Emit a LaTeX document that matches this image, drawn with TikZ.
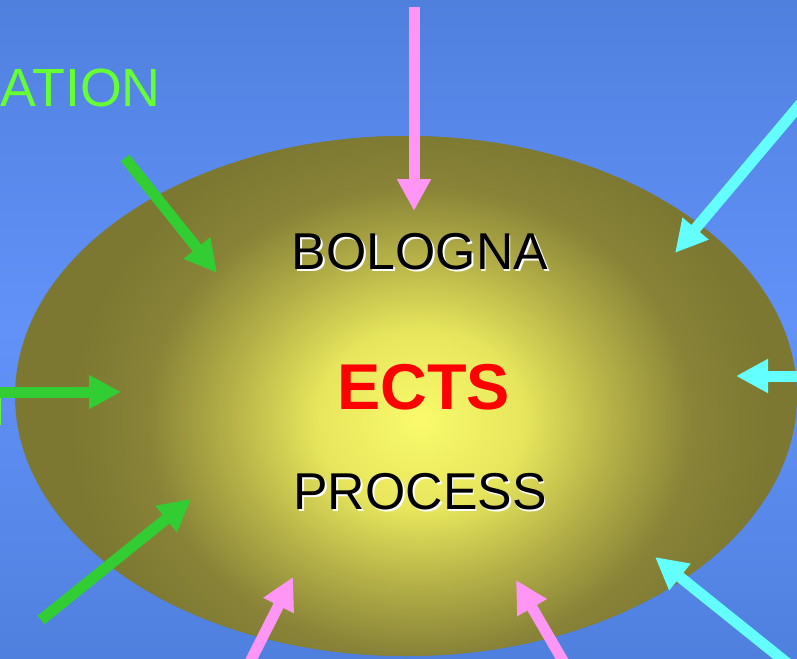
\documentclass[tikz,border=0pt]{standalone}
\usepackage{fontspec}
\setmainfont{Liberation Sans}
\usepackage{tkz-euclide}
\usepackage{tikz}
\usetikzlibrary{arrows.meta}
\definecolor{bgEdge}{RGB}{80,128,222}
\definecolor{bgMid}{RGB}{98,146,248}
\definecolor{glow0}{RGB}{250,250,108}
\definecolor{glow1}{RGB}{230,229,92}
\definecolor{glow2}{RGB}{182,178,72}
\definecolor{glow3}{RGB}{136,131,55}
\definecolor{glow4}{RGB}{124,120,50}
\definecolor{arrowPink}{RGB}{255,150,245}
\definecolor{arrowGreen}{RGB}{50,205,50}
\definecolor{arrowCyan}{RGB}{100,255,255}
\definecolor{wordGreen}{RGB}{102,255,51}
\pgfdeclareradialshading{ectsGlow}{\pgfpoint{0bp}{0bp}}{color(0bp)=(glow0); color(7.5bp)=(glow1); color(13.5bp)=(glow2); color(19.5bp)=(glow3); color(25bp)=(glow4); color(50bp)=(glow4)}

\begin{document}
\begin{tikzpicture}[x=1bp,y=-1bp,
    >={Triangle[length=32bp,width=32bp]},
    flow/.style={->,line width=11bp},
    bigword/.style={inner sep=0pt,font=\fontsize{52}{60}\selectfont}]
    \useasboundingbox (0,0) rectangle (797,659);
    \shade[top color=bgEdge,bottom color=bgEdge,middle color=bgMid] (0,0) rectangle (797,659);
    \fill[glow4] (406,396) ellipse [x radius=391,y radius=260];
    \begin{scope}
      \clip (406,396) ellipse [x radius=391,y radius=260];
      \shade[shading=ectsGlow] (420,420) ellipse [x radius=350,y radius=300];
    \end{scope}

    % words cut off at the left
    \node[bigword,wordGreen,anchor=east,font=\fontsize{54}{60}\selectfont] (ation) at (161,88) {ATION};
    \node[bigword,wordGreen,anchor=west,font=\fontsize{54}{60}\selectfont] (tee) at (-17.5,406.5) {T};

    % middle of the ellipse
    \node[bigword,white] (bolognaS) at (421.8,253.8) {BOLOGNA};
    \node[bigword] (bologna) at (420,252) {BOLOGNA};
    \node[bigword,red,font=\bfseries\fontsize{65}{70}\selectfont] (ects) at (423.5,387) {ECTS};
    \node[bigword,white] (processS) at (421.8,493.8) {PROCESS};
    \node[bigword] (process) at (420,492) {PROCESS};

    \tkzDefPoint(414,7){P1}
    \tkzDefPoint(414,211){P2}
    \tkzDefPoint(248,666){P3}
    \tkzDefPoint(293,577){P4}
    \tkzDefPoint(566,666){P5}
    \tkzDefPoint(516,580){P6}
    \draw[flow,arrowPink] (P1)--(P2);
    \draw[flow,arrowPink] (P3)--(P4);
    \draw[flow,arrowPink] (P5)--(P6);

    \tkzDefPoint(125,158){G1}
    \tkzDefPoint(217,273){G2}
    \tkzDefPoint(0,392){G3}
    \tkzDefPoint(121,392){G4}
    \tkzDefPoint(41,620){G5}
    \tkzDefPoint(191,499){G6}
    \draw[flow,arrowGreen] (G1)--(G2);
    \draw[flow,arrowGreen] (G3)--(G4);
    \draw[flow,arrowGreen] (G5)--(G6);

    \tkzDefPoint(808,95){C1}
    \tkzDefPoint(675,253){C2}
    \tkzDefPoint(800,376){C3}
    \tkzDefPoint(736,376){C4}
    \tkzDefPoint(792,667){C5}
    \tkzDefPoint(655,557){C6}
    \draw[flow,arrowCyan] (C1)--(C2);
    \draw[flow,arrowCyan] (C3)--(C4);
    \draw[flow,arrowCyan] (C5)--(C6);
\end{tikzpicture}
\end{document}
